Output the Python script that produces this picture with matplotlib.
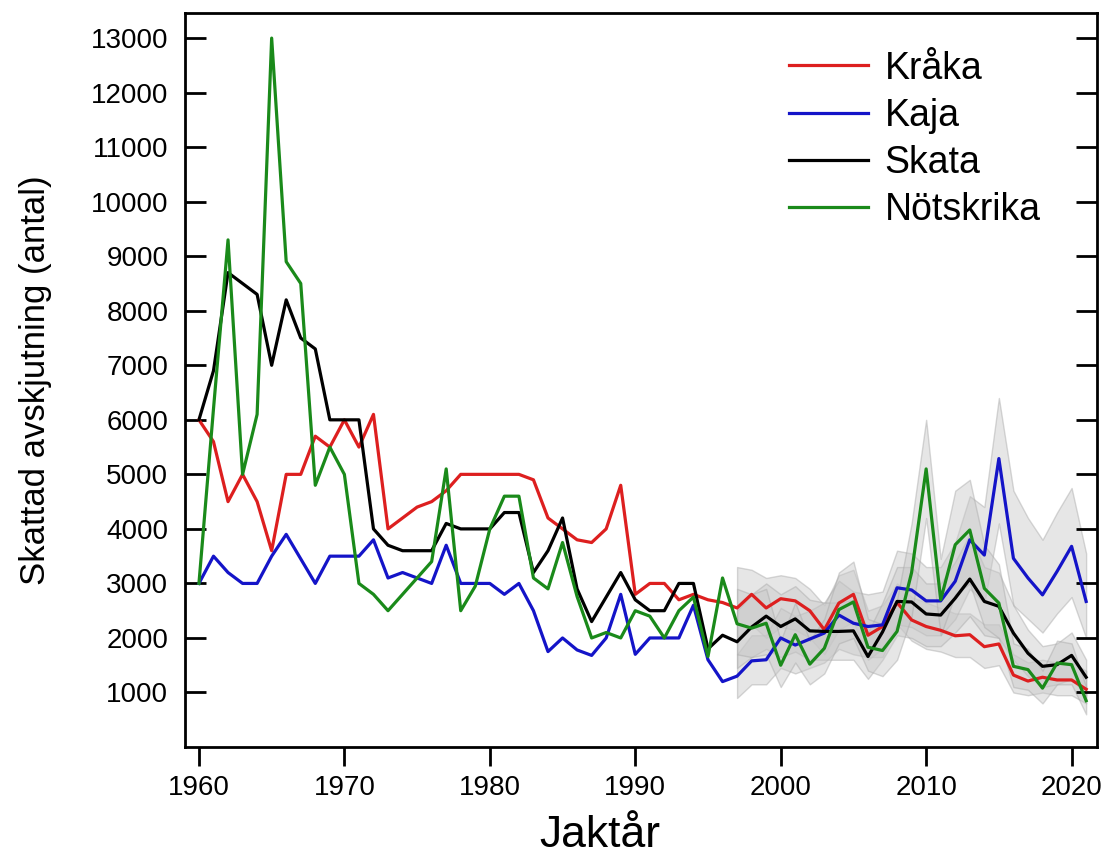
import numpy as np
from matplotlib import pyplot as plt

plt.rcParams['font.family'] = ['Liberation Sans', 'DejaVu Sans']

years = np.arange(1960, 2022)
band_years = np.arange(1997, 2022)

kraka = [6000, 5600, 4500, 5000, 4500, 3600, 5000, 5000, 5700, 5500,
         6000, 5500, 6100, 4000, 4200, 4400, 4500, 4700, 5000, 5000,
         5000, 5000, 5000, 4900, 4200, 4000, 3800, 3750, 4000, 4800,
         2800, 3000, 3000, 2700, 2800, 2700, 2650,
         2550, 2800, 2550, 2720, 2680, 2500, 2150, 2640, 2800, 2050,
         2210, 2650, 2330, 2210, 2140, 2040, 2060, 1840, 1890, 1320,
         1210, 1280, 1230, 1230, 1060]
kaja = [3000, 3500, 3200, 3000, 3000, 3500, 3900, 3450, 3000, 3500,
        3500, 3500, 3800, 3100, 3200, 3100, 3000, 3700, 3000, 3000,
        3000, 2800, 3000, 2500, 1750, 2000, 1780, 1680, 2000, 2800,
        1700, 2000, 2000, 2000, 2600, 1600, 1200,
        1300, 1580, 1600, 2000, 1870, 1980, 2090, 2420, 2270, 2210,
        2240, 2920, 2880, 2680, 2680, 3040, 3800, 3520, 5290, 3460,
        3100, 2790, 3220, 3680, 2670]
skata = [6000, 6900, 8700, 8500, 8300, 7000, 8200, 7500, 7300, 6000,
         6000, 6000, 4000, 3700, 3600, 3600, 3600, 4100, 4000, 4000,
         4000, 4300, 4300, 3200, 3600, 4200, 2900, 2300, 2750, 3200,
         2700, 2500, 2500, 3000, 3000, 1800, 2050,
         1930, 2200, 2400, 2210, 2350, 2130, 2120, 2120, 2130, 1660,
         2110, 2670, 2660, 2440, 2420, 2730, 3080, 2670, 2580, 2090,
         1720, 1480, 1510, 1680, 1280]
notskrika = [3000, 6200, 9300, 5000, 6100, 13000, 8900, 8500, 4800, 5500,
             5000, 3000, 2800, 2500, 2800, 3100, 3400, 5100, 2500, 2950,
             4000, 4600, 4600, 3100, 2900, 3750, 2760, 2000, 2100, 2000,
             2500, 2400, 2000, 2500, 2750, 1660, 3100,
             2260, 2180, 2270, 1500, 2060, 1520, 1810, 2520, 2660, 1830,
             1770, 2120, 3200, 5100, 2700, 3710, 3980, 2910, 2640, 1480,
             1420, 1080, 1540, 1510, 850]

# confidence bands from 1997 on
kraka_lo = [2000, 2250, 2000, 2200, 2150, 2000, 1700, 2150, 2300, 1600,
            1800, 2250, 1950, 1800, 1750, 1650, 1650, 1450, 1500, 1000,
            950, 1000, 950, 950, 800]
kraka_hi = [3300, 3250, 3100, 3150, 3100, 2900, 2600, 3150, 3250, 2500,
            2600, 3000, 2750, 2650, 2550, 2450, 2450, 2250, 2250, 1700,
            1550, 1600, 1550, 1550, 1400]
kaja_lo = [900, 1150, 1150, 1450, 1350, 1450, 1550, 1800, 1700, 1650,
           1650, 2250, 2200, 2050, 2050, 2350, 2900, 2650, 4100, 2600,
           2350, 2100, 2450, 2750, 2000]
kaja_hi = [1700, 2050, 2050, 2550, 2400, 2500, 2650, 3050, 2850, 2800,
           2850, 3600, 3550, 3300, 3300, 3750, 4600, 4400, 6400, 4700,
           4200, 3800, 4300, 4750, 3550]
skata_lo = [1450, 1650, 1800, 1650, 1750, 1600, 1600, 1600, 1600, 1250,
            1600, 2050, 2000, 1850, 1850, 2100, 2400, 2050, 2000, 1600,
            1300, 1100, 1150, 1250, 950]
skata_hi = [2500, 2800, 3000, 2800, 2950, 2700, 2650, 2650, 2700, 2100,
            2650, 3300, 3300, 3000, 3000, 3400, 3900, 3300, 3200, 2600,
            2150, 1850, 1900, 2100, 1600]
notskrika_lo = [1700, 1650, 1700, 1100, 1550, 1150, 1350, 1900, 2000, 1400,
                1300, 1600, 2400, 4200, 2050, 2800, 3000, 2200, 2000, 1100,
                1050, 800, 1150, 1150, 600]
notskrika_hi = [2900, 2800, 2900, 1950, 2650, 1950, 2350, 3200, 3400, 2350,
                2250, 2700, 4100, 6000, 3450, 4700, 4900, 3700, 3350, 1900,
                1800, 1400, 1950, 1900, 1100]

series = [
    ('Kråka', kraka, kraka_lo, kraka_hi, '#dd1f1f'),
    ('Kaja', kaja, kaja_lo, kaja_hi, '#1414c8'),
    ('Skata', skata, skata_lo, skata_hi, '#000000'),
    ('Nötskrika', notskrika, notskrika_lo, notskrika_hi, '#1a8a1a'),
]

fig = plt.figure(figsize=(11.05, 8.56), dpi=100)
ax = fig.add_axes([0.1674, 0.1273, 0.8254, 0.8575])

for name, vals, lo, hi, col in series:
    ax.fill_between(band_years, lo, hi, facecolor='#c8c8c8', edgecolor='#a8a8a8',
                    alpha=0.45, linewidth=1, zorder=1)

for name, vals, lo, hi, col in series:
    ax.plot(years, vals, color=col, lw=2.3, label=name, zorder=3)

ax.set_xlim(1959.04, 2021.75)
ax.set_ylim(0, 13460)
ax.set_xticks(np.arange(1960, 2021, 10))
ax.set_yticks(np.arange(1000, 13001, 1000))

ax.tick_params(axis='y', which='both', direction='in', length=15, width=2,
               labelsize=20, right=True, pad=12)
ax.tick_params(axis='x', direction='out', length=14, width=2, labelsize=20, pad=6)
for sp in ax.spines.values():
    sp.set_linewidth(2)

ax.set_xlabel('Jaktår', fontsize=32)
ax.xaxis.set_label_coords(0.455, -0.093, transform=ax.transAxes)
ax.xaxis.label.set_verticalalignment('top')
ax.set_ylabel('Skattad avskjutning (antal)', fontsize=25, labelpad=28)

leg = ax.legend(loc='upper right', frameon=False, fontsize=27, handlelength=2.1,
                handletextpad=0.45, labelspacing=0.3, borderaxespad=0.6,
                bbox_to_anchor=(0.979, 1.0))

fig.savefig('out.png', dpi=100)
